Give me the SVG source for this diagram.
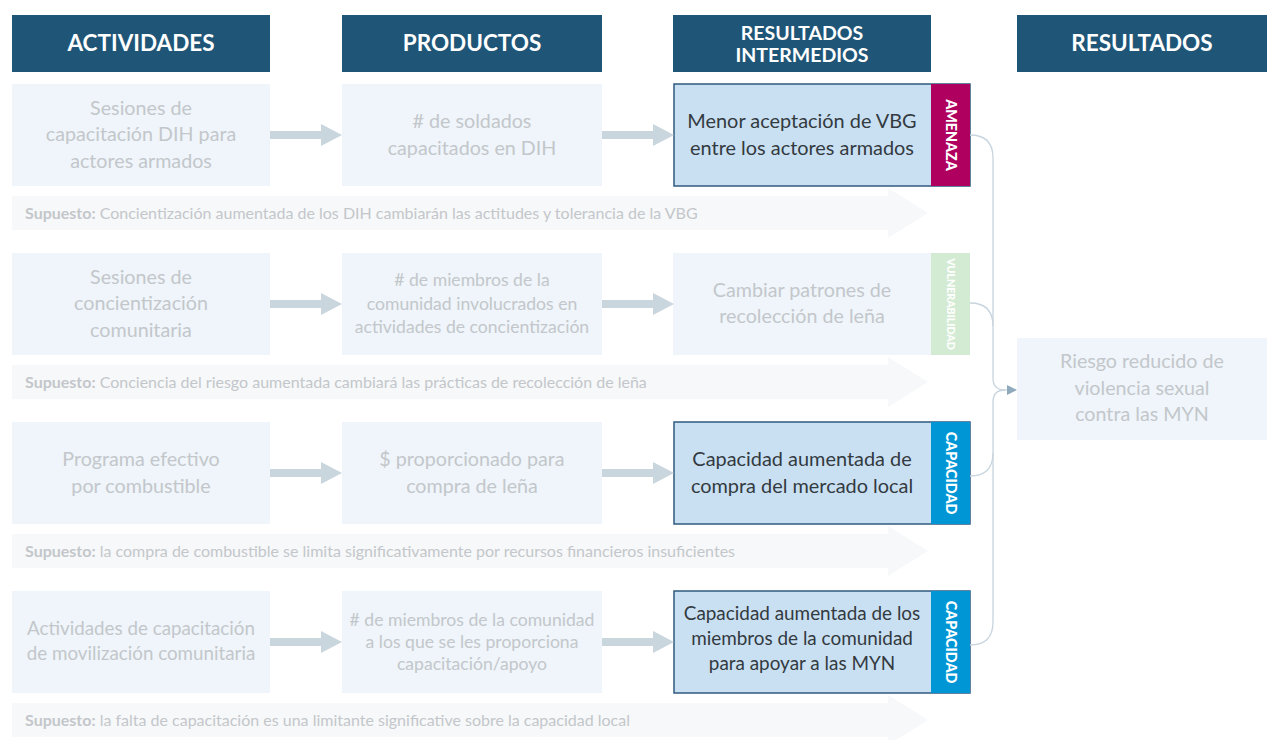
<svg xmlns="http://www.w3.org/2000/svg" width="1267" height="740" viewBox="0 0 1267 740">
<style>
.hdr{fill:#1f5677}
.hdrt{font-family:Lato,"Liberation Sans",sans-serif;font-weight:bold;font-size:22.5px;fill:#ffffff;text-anchor:middle}
.box{fill:#eff5fa}
.gt{font-family:Lato,"Liberation Sans",sans-serif;font-size:19.7px;fill:#c3c7cb;text-anchor:middle}
.gs{font-size:17.6px}
.rbox{fill:#c9e0f3;stroke:#2f5a7f;stroke-width:1.5}
.rt{font-family:Lato,"Liberation Sans",sans-serif;font-size:19.9px;fill:#333a40;text-anchor:middle}
.tabt{font-family:Lato,"Liberation Sans",sans-serif;font-weight:900;font-size:14.3px;fill:#ffffff;text-anchor:middle}
.sup{fill:#f7f8f9}
.supt{font-family:Lato,"Liberation Sans",sans-serif;font-size:16px;fill:#c3c7cb}
.supb{font-weight:bold}
.arr{fill:#c9d6de}
.con{fill:none;stroke:#c8d5df;stroke-width:1.3}
</style>
<defs>
<marker id="ah" markerWidth="10" markerHeight="10" refX="9" refY="5" orient="auto" markerUnits="userSpaceOnUse">
<path d="M0,0 L10,5 L0,10 Z" fill="#8fa9bd"/>
</marker>
</defs>
<rect width="1267" height="740" fill="#ffffff"/>

<g id="headers">
<rect class="hdr" x="12" y="15" width="258" height="57"/>
<text class="hdrt" x="141" y="51">ACTIVIDADES</text>
<rect class="hdr" x="342" y="15" width="260" height="57"/>
<text class="hdrt" x="472" y="51">PRODUCTOS</text>
<rect class="hdr" x="673" y="15" width="258" height="57"/>
<text class="hdrt" x="802" y="40" style="font-size:19.5px">RESULTADOS</text>
<text class="hdrt" x="802" y="62" style="font-size:19.5px">INTERMEDIOS</text>
<rect class="hdr" x="1017" y="15" width="250" height="57"/>
<text class="hdrt" x="1142" y="51">RESULTADOS</text>
</g>

<g id="supuestos">
<path class="sup" d="M12,196 H888 V188 L928,213 L888,238 V230 H12 Z"/>
<text class="supt" x="25" y="219"><tspan class="supb">Supuesto:</tspan> Concientización aumentada de los DIH cambiarán las actitudes y tolerancia de la VBG</text>
<path class="sup" d="M12,365 H888 V357 L928,382 L888,407 V399 H12 Z"/>
<text class="supt" x="25" y="388"><tspan class="supb">Supuesto:</tspan> Conciencia del riesgo aumentada cambiará las prácticas de recolección de leña</text>
<path class="sup" d="M12,534 H888 V526 L928,551 L888,576 V568 H12 Z"/>
<text class="supt" x="25" y="557"><tspan class="supb">Supuesto:</tspan> la compra de combustible se limita significativamente por recursos financieros insuficientes</text>
<path class="sup" d="M12,703 H888 V695 L928,720 L888,745 V737 H12 Z"/>
<text class="supt" x="25" y="726"><tspan class="supb">Supuesto:</tspan> la falta de capacitación es una limitante significative sobre la capacidad local</text>
</g>

<g id="row1-actividad">
<rect class="box" x="12" y="84" width="258" height="102"/>
<text class="gt" x="141" y="115">Sesiones de</text>
<text class="gt" x="141" y="141">capacitación DIH para</text>
<text class="gt" x="141" y="168">actores armados</text>
</g>
<g id="row1-producto">
<rect class="box" x="342" y="84" width="260" height="102"/>
<text class="gt" x="472" y="128">  # de soldados</text>
<text class="gt" x="472" y="155">capacitados en DIH</text>
</g>
<g id="row1-resultado">
<rect class="rbox" x="674" y="84" width="296" height="102"/>
<rect x="931" y="84" width="39" height="102" fill="#b0005f"/>
<text class="rt" x="802" y="128">Menor aceptación de VBG</text>
<text class="rt" x="802" y="155">entre los actores armados</text>
<text class="tabt" transform="translate(945.5,135) rotate(90)">AMENAZA</text>
</g>

<g id="row2-actividad">
<rect class="box" x="12" y="253" width="258" height="102"/>
<text class="gt" x="141" y="284">Sesiones de</text>
<text class="gt" x="141" y="310">concientización</text>
<text class="gt" x="141" y="337">comunitaria</text>
</g>
<g id="row2-producto">
<rect class="box" x="342" y="253" width="260" height="102"/>
<text class="gt gs" x="472" y="286">  # de miembros de la</text>
<text class="gt gs" x="472" y="310">comunidad involucrados en</text>
<text class="gt gs" x="472" y="333">actividades de concientización</text>
</g>
<g id="row2-resultado">
<rect class="box" x="673" y="253" width="258" height="102"/>
<rect x="931" y="253" width="39" height="102" fill="#d3ead3"/>
<text class="gt" x="802" y="297">Cambiar patrones de</text>
<text class="gt" x="802" y="323">recolección de leña</text>
<text class="tabt" transform="translate(947,304) rotate(90)" style="font-size:10.6px">VULNERABILIDAD</text>
</g>

<g id="row3-actividad">
<rect class="box" x="12" y="422" width="258" height="102"/>
<text class="gt" x="141" y="466">Programa efectivo</text>
<text class="gt" x="141" y="493">por combustible</text>
</g>
<g id="row3-producto">
<rect class="box" x="342" y="422" width="260" height="102"/>
<text class="gt" x="472" y="466">$ proporcionado para</text>
<text class="gt" x="472" y="493">compra de leña</text>
</g>
<g id="row3-resultado">
<rect class="rbox" x="674" y="422" width="296" height="102"/>
<rect x="931" y="422" width="39" height="102" fill="#0096d6"/>
<text class="rt" x="802" y="466">Capacidad aumentada de</text>
<text class="rt" x="802" y="493">compra del mercado local</text>
<text class="tabt" transform="translate(945.5,473) rotate(90)">CAPACIDAD</text>
</g>

<g id="row4-actividad">
<rect class="box" x="12" y="591" width="258" height="102"/>
<text class="gt" x="141" y="635" style="font-size:18.8px">Actividades de capacitación</text>
<text class="gt" x="141" y="660" style="font-size:18.8px">de movilización comunitaria</text>
</g>
<g id="row4-producto">
<rect class="box" x="342" y="591" width="260" height="102"/>
<text class="gt gs" x="472" y="626">  # de miembros de la comunidad</text>
<text class="gt gs" x="472" y="648">a los que se les proporciona</text>
<text class="gt gs" x="472" y="670">capacitación/apoyo</text>
</g>
<g id="row4-resultado">
<rect class="rbox" x="674" y="591" width="296" height="102"/>
<rect x="931" y="591" width="39" height="102" fill="#0096d6"/>
<text class="rt" x="802" y="620" style="font-size:18.9px">Capacidad aumentada de los</text>
<text class="rt" x="802" y="645" style="font-size:18.9px">miembros de la comunidad</text>
<text class="rt" x="802" y="670" style="font-size:18.9px">para apoyar a las MYN</text>
<text class="tabt" transform="translate(945.5,642) rotate(90)">CAPACIDAD</text>
</g>

<g id="resultado-final">
<rect class="box" x="1017" y="338" width="250" height="102"/>
<text class="gt" x="1142" y="368">Riesgo reducido de</text>
<text class="gt" x="1142" y="395">violencia sexual</text>
<text class="gt" x="1142" y="421">contra las MYN</text>
</g>

<g id="connectors">
<path class="arr" d="M270,131 H321 V124 L342,135 L321,146 V139 H270 Z"/>
<path class="arr" d="M602,131 H653 V124 L674,135 L653,146 V139 H602 Z"/>
<path class="arr" d="M270,300 H321 V293 L342,304 L321,315 V308 H270 Z"/>
<path class="arr" d="M602,300 H653 V293 L674,304 L653,315 V308 H602 Z"/>
<path class="arr" d="M270,469 H321 V462 L342,473 L321,484 V477 H270 Z"/>
<path class="arr" d="M602,469 H653 V462 L674,473 L653,484 V477 H602 Z"/>
<path class="arr" d="M270,638 H321 V631 L342,642 L321,653 V646 H270 Z"/>
<path class="arr" d="M602,638 H653 V631 L674,642 L653,653 V646 H602 Z"/>
<path class="con" d="M970,135 Q993,135 993,158 V378 Q993,390 1005,390"/>
<path class="con" d="M970,303 Q993,303 993,326"/>
<path class="con" d="M970,476 Q993,476 993,453"/>
<path class="con" d="M970,645 Q993,645 993,622 V402 Q993,390 1005,390"/>
<path class="con" d="M1005,390 H1016" stroke="#8fa9bd" marker-end="url(#ah)"/>
</g>
</svg>
